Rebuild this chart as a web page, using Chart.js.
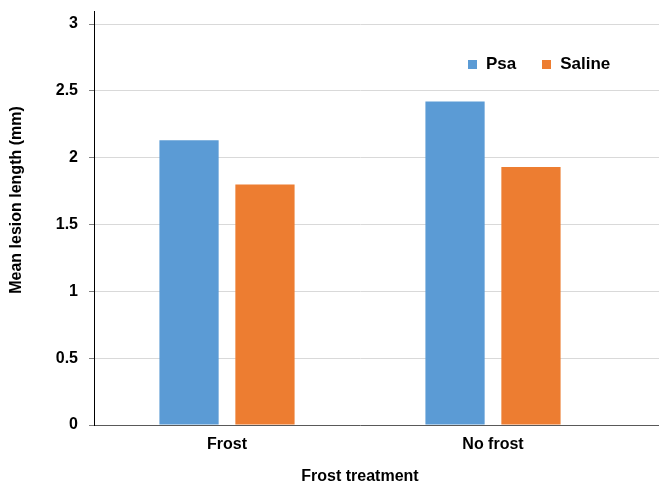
<!DOCTYPE html>
<html>
<head>
<meta charset="utf-8">
<script src="https://cdn.jsdelivr.net/npm/chart.js@4"></script>
<style>
  html, body { margin: 0; padding: 0; background: #fff; overflow: hidden; }
  #wrap { position: relative; width: 659px; height: 486px; }
  #legend { position: absolute; left: 468px; top: 54px; font: bold 17px 'Liberation Sans', Arial, sans-serif; color: #000; display: flex; align-items: center; }
  #legend span.box { display: inline-block; width: 9px; height: 9px; margin-right: 9px; }
  #legend span.item { display: flex; align-items: center; margin-right: 26px; }
</style>
</head>
<body>
<div id="wrap">
  <canvas id="chart" width="659" height="486"></canvas>
  <div id="legend"></div>
</div>
<script>
  const categories = ['Frost', 'No frost'];
  const psa = [2.13, 2.42];
  const saline = [1.80, 1.93];
  const yTicks = [0, 0.5, 1, 1.5, 2, 2.5, 3];

  const COLORS = { psa: '#5B9BD5', saline: '#ED7D31', grid: '#D9D9D9', axis: '#595959' };
  const FONT = "'Liberation Sans', Arial, sans-serif";

  Chart.defaults.font.family = FONT;
  Chart.defaults.color = '#000';

  // same rounding chart.js uses for 1px lines
  const align = p => Math.round(p - 0.5) + 0.5;

  // gridlines and axis run on to the right edge, y axis runs above 3
  const extendPlugin = {
    id: 'extend',
    afterDraw(chart) {
      const ctx = chart.ctx;
      const area = chart.chartArea;
      const y = chart.scales.y;
      ctx.save();
      ctx.lineWidth = 1;
      yTicks.forEach(v => {
        const py = align(y.getPixelForValue(v));
        ctx.strokeStyle = v === 0 ? COLORS.axis : COLORS.grid;
        ctx.beginPath();
        ctx.moveTo(area.right - 1, py);
        ctx.lineTo(chart.width, py);
        ctx.stroke();
      });
      ctx.strokeStyle = '#000';
      ctx.beginPath();
      ctx.moveTo(align(area.left), 11);
      ctx.lineTo(align(area.left), area.top + 1);
      ctx.stroke();
      // y axis title
      ctx.translate(17, 200);
      ctx.rotate(-Math.PI / 2);
      ctx.font = 'bold 16px ' + FONT;
      ctx.fillStyle = '#000';
      ctx.textAlign = 'center';
      ctx.textBaseline = 'middle';
      ctx.fillText('Mean lesion length (mm)', 0, 0);
      ctx.restore();
    }
  };

  new Chart(document.getElementById('chart'), {
    type: 'bar',
    data: {
      labels: categories,
      datasets: [
        { label: 'Psa', data: psa, backgroundColor: COLORS.psa, barPercentage: 0.78, categoryPercentage: 0.571 },
        { label: 'Saline', data: saline, backgroundColor: COLORS.saline, barPercentage: 0.78, categoryPercentage: 0.571 }
      ]
    },
    options: {
      responsive: false,
      animation: false,
      layout: { padding: { left: 0, right: 33, top: 24, bottom: 0 } },
      plugins: { legend: { display: false }, tooltip: { enabled: false } },
      scales: {
        x: {
          grid: { display: false, drawTicks: false },
          border: { display: true, color: COLORS.axis, width: 1 },
          ticks: { padding: 10, font: { size: 16, weight: 'bold' }, color: '#000' },
          title: { display: true, text: 'Frost treatment', font: { size: 16, weight: 'bold' }, color: '#000', padding: { top: 0, bottom: 0 } },
          afterFit(scale) { scale.height = 61; }
        },
        y: {
          min: 0,
          max: 3,
          afterBuildTicks(scale) { scale.ticks = yTicks.map(v => ({ value: v })); },
          grid: { color: COLORS.grid, tickColor: '#7F7F7F', tickLength: 5 },
          border: { display: true, color: '#000', width: 1 },
          ticks: { padding: 11, font: { size: 16, weight: 'bold' }, color: '#000', callback: v => String(v) },
          afterFit(scale) { scale.width = 94; }
        }
      }
    },
    plugins: [extendPlugin]
  });

  const legend = document.getElementById('legend');
  [['Psa', COLORS.psa], ['Saline', COLORS.saline]].forEach(([name, col]) => {
    const item = document.createElement('span');
    item.className = 'item';
    item.innerHTML = '<span class="box" style="background:' + col + '"></span>' + name;
    legend.appendChild(item);
  });
</script>
</body>
</html>
